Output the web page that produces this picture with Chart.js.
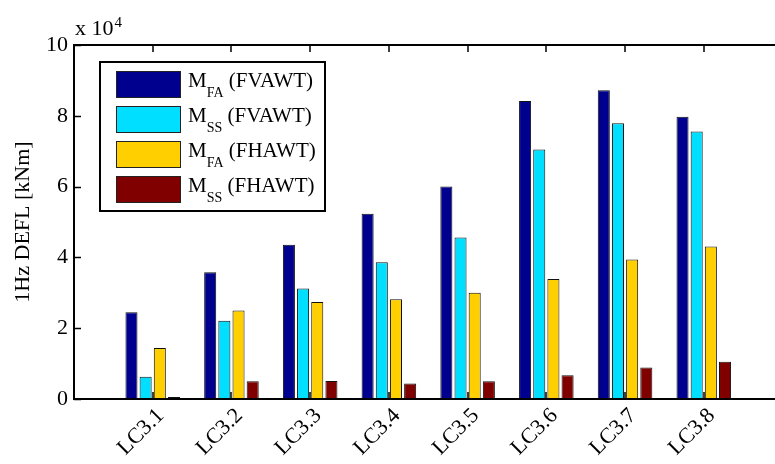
<!DOCTYPE html>
<html>
<head>
<meta charset="utf-8">
<script src="https://cdn.jsdelivr.net/npm/chart.js@4/dist/chart.umd.min.js"></script>
<style>
  html, body { margin: 0; padding: 0; background: #fff; overflow: hidden; }
  #wrap { width: 775px; height: 464px; overflow: hidden; position: relative; }
  canvas { display: block; }
</style>
</head>
<body>
<div id="wrap"><canvas id="chart" width="800" height="464"></canvas></div>
<script>
// Load cases along the x axis
const categories = ['LC3.1', 'LC3.2', 'LC3.3', 'LC3.4', 'LC3.5', 'LC3.6', 'LC3.7', 'LC3.8'];

// 1Hz damage equivalent fatigue loads, kNm
const mFaFvawt = [24500, 35800, 43600, 52300, 60000, 84200, 87200, 79700];
const mSsFvawt = [6300, 22100, 31200, 38600, 45600, 70500, 77900, 75600];
const mFaFhawt = [14400, 25000, 27400, 28200, 30000, 33900, 39400, 43100];
const mSsFhawt = [600, 5000, 5100, 4400, 5000, 6700, 8900, 10500];

// Legend entries: symbol, subscript, turbine
const legendMain = ['M', 'M', 'M', 'M'];
const legendSub = ['FA', 'SS', 'FA', 'SS'];
const legendTurbine = [' (FVAWT)', ' (FVAWT)', ' (FHAWT)', ' (FHAWT)'];

// Y axis ticks (kNm) and the common exponent
const yTicks = [0, 20000, 40000, 60000, 80000, 100000];
const yExponent = 4;

const colors = ['#00008f', '#00dfff', '#ffcf00', '#800000'];
const series = [mFaFvawt, mSsFvawt, mFaFhawt, mSsFhawt];

const serif = "'Liberation Serif', 'Times New Roman', serif";

const datasets = series.map((vals, i) => ({
  label: legendMain[i] + legendSub[i] + legendTurbine[i],
  data: vals.map((v, j) => ({ x: j + 1, y: v })),
  backgroundColor: colors[i],
  borderColor: '#111',
  borderWidth: 1,
  categoryPercentage: 0.72,
  barPercentage: 0.85
}));

// Axes box, inward ticks, exponent and legend
const decorations = {
  id: 'decorations',
  afterDatasetsDraw(chart) {
    const { ctx, chartArea: a, scales: { x, y } } = chart;
    ctx.save();
    ctx.strokeStyle = '#000';
    ctx.lineCap = 'square';
    ctx.lineWidth = 2;
    ctx.beginPath();
    ctx.moveTo(a.left, a.top); ctx.lineTo(a.right, a.top);
    ctx.moveTo(a.left, a.top); ctx.lineTo(a.left, a.bottom);
    ctx.moveTo(a.left, a.bottom); ctx.lineTo(a.right, a.bottom);
    ctx.moveTo(a.right, a.top); ctx.lineTo(a.right, a.bottom);
    ctx.stroke();

    ctx.lineWidth = 1.5;
    ctx.lineCap = 'butt';
    ctx.beginPath();
    y.ticks.forEach(t => {
      const py = Math.round(y.getPixelForValue(t.value)) + 0.5;
      ctx.moveTo(a.left, py); ctx.lineTo(a.left + 7, py);
      ctx.moveTo(a.right, py); ctx.lineTo(a.right - 7, py);
    });
    x.ticks.forEach(t => {
      const px = Math.round(x.getPixelForValue(t.value));
      ctx.moveTo(px, a.top); ctx.lineTo(px, a.top + 7);
      ctx.moveTo(px, a.bottom); ctx.lineTo(px, a.bottom - 7);
    });
    ctx.stroke();

    // common exponent above the y axis
    ctx.fillStyle = '#000';
    ctx.textBaseline = 'alphabetic';
    ctx.textAlign = 'left';
    ctx.font = '22px ' + serif;
    const base = 'x 10';
    ctx.fillText(base, a.left + 1, a.top - 10);
    const bw = ctx.measureText(base).width;
    ctx.font = '15px ' + serif;
    ctx.fillText(String(yExponent), a.left + 2 + bw, a.top - 18);

    // legend
    const lx = a.left + 26, ly = a.top + 17, lw = 225, lh = 149;
    ctx.fillStyle = '#fff';
    ctx.fillRect(lx, ly, lw, lh);
    ctx.lineWidth = 2;
    ctx.strokeStyle = '#000';
    ctx.strokeRect(lx, ly, lw, lh);
    for (let i = 0; i < legendMain.length; i++) {
      const ry = ly + 9 + i * 35;
      ctx.fillStyle = colors[i];
      ctx.fillRect(lx + 16, ry, 65, 27);
      ctx.lineWidth = 1;
      ctx.strokeStyle = '#222';
      ctx.strokeRect(lx + 16.5, ry + 0.5, 64, 26);
      ctx.fillStyle = '#000';
      let tx = lx + 88;
      const baseY = ry + 16;
      ctx.font = '21px ' + serif;
      ctx.fillText(legendMain[i], tx, baseY);
      tx += ctx.measureText(legendMain[i]).width;
      ctx.font = '14px ' + serif;
      ctx.fillText(legendSub[i], tx, baseY + 10);
      tx += ctx.measureText(legendSub[i]).width;
      ctx.font = '21px ' + serif;
      ctx.fillText(legendTurbine[i], tx, baseY);
    }
    ctx.restore();
  }
};

new Chart(document.getElementById('chart'), {
  type: 'bar',
  data: { datasets },
  options: {
    responsive: false,
    animation: false,
    events: [],
    layout: { padding: { left: 0, top: 45, right: 17.5, bottom: 0 } },
    plugins: { legend: { display: false }, tooltip: { enabled: false } },
    scales: {
      x: {
        type: 'linear',
        min: 0,
        max: categories.length + 1,
        offset: false,
        afterBuildTicks(scale) {
          scale.ticks = categories.map((c, i) => ({ value: i + 1 }));
        },
        afterFit(scale) { scale.height = 65; },
        grid: { display: false, drawTicks: false },
        border: { display: false },
        ticks: {
          autoSkip: false,
          minRotation: 45,
          maxRotation: 45,
          padding: 4,
          labelOffset: 8,
          color: '#000',
          font: { family: serif, size: 22 },
          callback: v => categories[v - 1] || ''
        }
      },
      y: {
        min: yTicks[0],
        max: yTicks[yTicks.length - 1],
        afterBuildTicks(scale) {
          scale.ticks = yTicks.map(v => ({ value: v }));
        },
        afterFit(scale) { scale.width = 74; },
        grid: { display: false, drawTicks: false },
        border: { display: false },
        ticks: {
          padding: 6,
          color: '#000',
          font: { family: serif, size: 22 },
          callback: v => String(v / Math.pow(10, yExponent))
        },
        title: {
          display: true,
          text: '1Hz DEFL [kNm]',
          color: '#000',
          font: { family: serif, size: 22 },
          padding: { top: 10, bottom: 0 }
        }
      }
    }
  },
  plugins: [decorations]
});
</script>
</body>
</html>
